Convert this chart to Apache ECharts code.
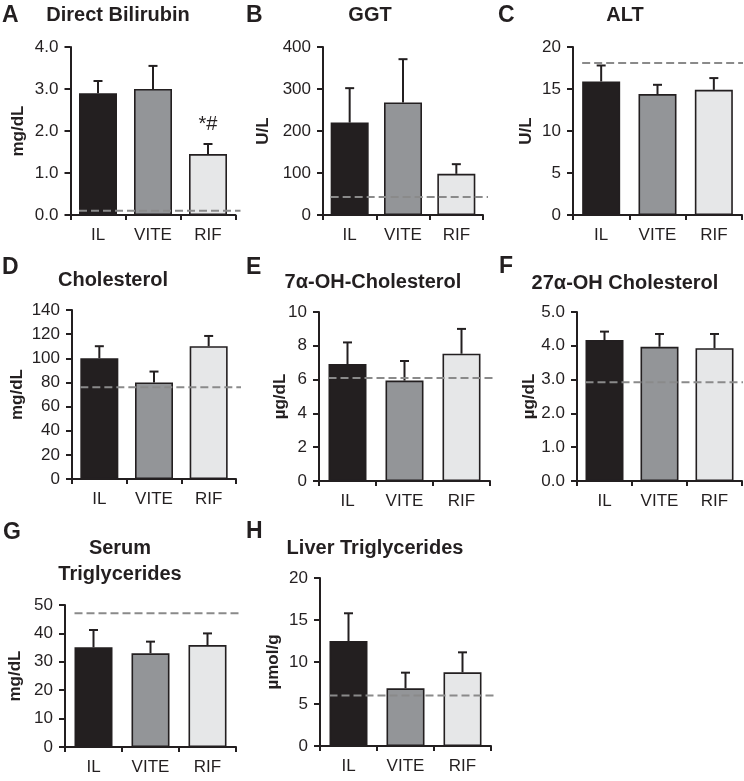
<!DOCTYPE html>
<html>
<head>
<meta charset="utf-8">
<script src="https://cdn.jsdelivr.net/npm/echarts@6/dist/echarts.min.js"></script>
<style>
  html, body { margin: 0; padding: 0; background: #ffffff; }
  #chart { width: 744px; height: 781px; }
</style>
</head>
<body>
<div id="chart"></div>
<script>
// ---------------- DATA ----------------
const categories = ['IL', 'VITE', 'RIF'];

const panelLetters = ['A', 'B', 'C', 'D', 'E', 'F', 'G', 'H'];
const panelTitles = ['Direct Bilirubin', 'GGT', 'ALT', 'Cholesterol',
  '7\u03b1-OH-Cholesterol', '27\u03b1-OH Cholesterol', 'Serum\nTriglycerides', 'Liver Triglycerides'];
const unitLabels = ['mg/dL', 'U/L', 'U/L', 'mg/dL', '\u00b5g/dL', '\u00b5g/dL', 'mg/dL', '\u00b5mol/g'];

// means (bar heights) per panel
const bilirubinMean   = [2.90, 3.00, 1.45];
const ggtMean         = [220, 268, 98];
const altMean         = [15.9, 14.4, 14.9];
const cholesterolMean = [100, 80, 110];
const oh7Mean         = [6.92, 5.94, 7.53];
const oh27Mean        = [4.17, 3.97, 3.93];
const serumTGMean     = [35.1, 33.0, 35.9];
const liverTGMean     = [12.5, 6.87, 8.77];

// SEM (upper error bar length) per panel
const bilirubinSEM   = [0.29, 0.55, 0.24];
const ggtSEM         = [82, 103, 23];
const altSEM         = [1.9, 1.1, 1.4];
const cholesterolSEM = [10, 9, 8.5];
const oh7SEM         = [1.28, 1.16, 1.47];
const oh27SEM        = [0.25, 0.38, 0.42];
const serumTGSEM     = [6.1, 4.1, 4.1];
const liverTGSEM     = [3.3, 1.86, 2.38];

// reference (dashed) lines per panel
const referenceValues = [0.10, 43, 18.1, 76, 6.1, 2.92, 47.1, 6.0];

// y-axis scales (max and tick interval) and decimals of tick labels
const axisMax       = [4, 400, 20, 140, 10, 5, 50, 20];
const axisInterval  = [1, 100, 5, 20, 2, 1, 10, 5];
const tickDecimals  = [1, 0, 0, 0, 0, 1, 0, 0];

// significance marks (panel A only)
const bilirubinMarks = ['', '', '*#'];

const means = [bilirubinMean, ggtMean, altMean, cholesterolMean, oh7Mean, oh27Mean, serumTGMean, liverTGMean];
const sems  = [bilirubinSEM, ggtSEM, altSEM, cholesterolSEM, oh7SEM, oh27SEM, serumTGSEM, liverTGSEM];
const marks = [bilirubinMarks, null, null, null, null, null, null, null];

// ---------------- LAYOUT ----------------
const FONT = 'Liberation Sans, Arial, Helvetica, sans-serif';
const INK = '#231f20';
const barColors = ['#231f20', '#939598', '#e6e7e8'];

// grid rectangles [left, top, width, height]
const grids = [
  [70.5, 47, 165, 168],
  [323, 47, 160, 168],
  [573, 47, 169, 168],
  [72, 310, 164, 169],
  [319, 312, 171, 169],
  [577, 312, 165, 169],
  [65, 605, 171, 142],
  [320, 578, 171, 168]
];
const nameGaps = [44, 51, 38, 46, 30, 39, 41, 38];
// title centers and letter positions
const titlePos  = [[118, 15], [370, 15], [625, 15], [113, 280], [373, 282], [625, 283], [120, 561], [375, 548]];
const letterPos = [[2, 16], [246, 16], [498, 16], [2, 268], [246, 268], [499, 267], [3, 533], [246, 532]];

const option = {
  backgroundColor: '#ffffff',
  animation: false,
  textStyle: { fontFamily: FONT },
  grid: [], xAxis: [], yAxis: [], series: [], graphic: []
};

for (let i = 0; i < 8; i++) {
  const g = grids[i];
  option.grid.push({ left: g[0], top: g[1], width: g[2], height: g[3] });
  option.xAxis.push({
    type: 'category', gridIndex: i, data: categories,
    axisLine: { show: true, lineStyle: { color: INK, width: 2 } },
    axisTick: { show: true, length: 5, lineStyle: { color: INK, width: 2 } },
    axisLabel: { color: INK, fontSize: 17, margin: 12, fontFamily: FONT },
    splitLine: { show: false }
  });
  const dec = tickDecimals[i];
  option.yAxis.push({
    type: 'value', gridIndex: i, min: 0, max: axisMax[i], interval: axisInterval[i],
    name: unitLabels[i], nameLocation: 'middle', nameGap: nameGaps[i], nameMoveOverlap: false,
    nameTextStyle: { color: INK, fontSize: 17, fontWeight: 'bold', fontFamily: FONT },
    axisLine: { show: true, lineStyle: { color: INK, width: 2 } },
    axisTick: { show: true, length: 6, lineStyle: { color: INK, width: 2 } },
    axisLabel: { color: INK, fontSize: 17, margin: 12, fontFamily: FONT,
      formatter: v => v.toFixed(dec) },
    splitLine: { show: false }
  });

  const mk = marks[i];
  option.series.push({
    type: 'bar', xAxisIndex: i, yAxisIndex: i, barWidth: 38, z: 2,
    data: means[i].map((v, k) => ({
      value: v,
      itemStyle: { color: barColors[k], borderColor: INK, borderWidth: 1.6 },
      label: (mk && mk[k]) ? { show: true, position: 'top', distance: 20, formatter: mk[k],
        fontSize: 20, color: INK, fontFamily: FONT } : { show: false }
    }))
  });

  option.series.push({
    type: 'custom', xAxisIndex: i, yAxisIndex: i, z: 3,
    data: means[i].map((v, k) => [k, v, sems[i][k]]),
    encode: { x: 0, y: 1 },
    renderItem: (params, api) => {
      const x = api.value(0), m = api.value(1), e = api.value(2);
      const p0 = api.coord([x, m]);
      const p1 = api.coord([x, m + e]);
      const st = { stroke: INK, lineWidth: 2 };
      return { type: 'group', children: [
        { type: 'line', shape: { x1: p0[0], y1: p0[1], x2: p1[0], y2: p1[1] }, style: st },
        { type: 'line', shape: { x1: p1[0] - 4.5, y1: p1[1], x2: p1[0] + 4.5, y2: p1[1] }, style: st }
      ] };
    }
  });

  option.series.push({
    type: 'custom', xAxisIndex: i, yAxisIndex: i, z: 4,
    data: [[0, referenceValues[i]]],
    encode: { x: 0, y: 1 },
    renderItem: (params, api) => {
      const v = api.value(1);
      const p0 = api.coord([0, v]);
      const p2 = api.coord([2, v]);
      const bw = api.size([1, 0])[0];
      const x2 = Math.min(p2[0] + bw / 2 + 5, 743);
      return { type: 'line', shape: { x1: p0[0] - 19, y1: p0[1], x2: x2, y2: p0[1] },
        style: { stroke: '#8a8a8a', lineWidth: 2, lineDash: [8, 4] } };
    }
  });

  option.graphic.push({
    type: 'text', x: titlePos[i][0], y: titlePos[i][1],
    style: { text: panelTitles[i], fill: INK, font: 'bold 20px ' + FONT,
      align: 'center', verticalAlign: 'middle', lineHeight: 26 }
  });
  option.graphic.push({
    type: 'text', x: letterPos[i][0], y: letterPos[i][1],
    style: { text: panelLetters[i], fill: INK, font: 'bold 23px ' + FONT,
      align: 'left', verticalAlign: 'middle' }
  });
}

const chart = echarts.init(document.getElementById('chart'), null, { renderer: 'canvas', width: 744, height: 781 });
chart.setOption(option);
</script>
</body>
</html>
